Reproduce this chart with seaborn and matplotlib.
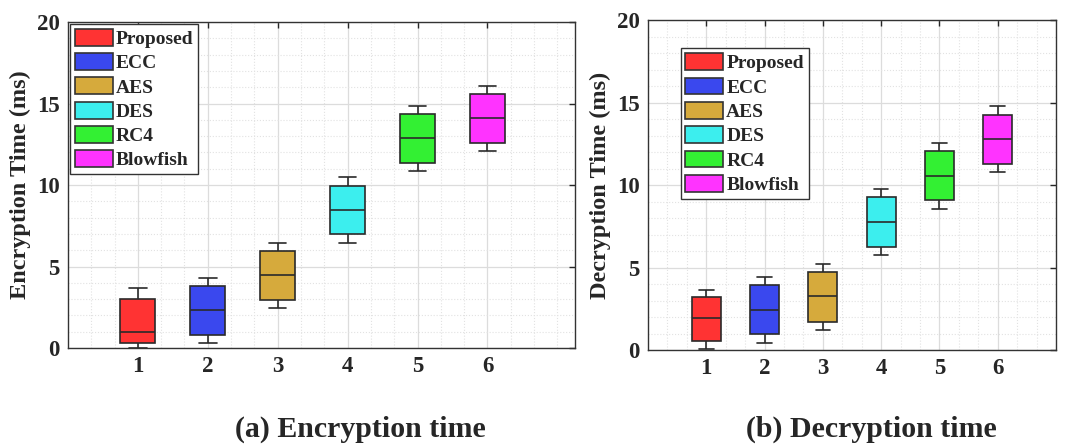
import numpy as np
import pandas as pd
import matplotlib
matplotlib.use("Agg")
import matplotlib.pyplot as plt
from matplotlib.ticker import MultipleLocator
from matplotlib.patches import Patch
import seaborn as sns

# five-number summaries: low whisker, Q1, median, Q3, high whisker
methods = ["Proposed", "ECC", "AES", "DES", "RC4", "Blowfish"]
positions = [1, 2, 3, 4, 5, 6]
colors = ["#ff3333", "#3a48ee", "#d6aa3c", "#3ceeee", "#33f033", "#ff33ff"]

enc_low = [0.00, 0.31, 2.45, 6.46, 10.86, 12.09]
enc_q1 = [0.31, 0.82, 2.97, 6.97, 11.37, 12.60]
enc_med = [0.98, 2.31, 4.46, 8.49, 12.88, 14.11]
enc_q3 = [2.99, 3.80, 5.95, 9.96, 14.34, 15.58]
enc_high = [3.66, 4.31, 6.44, 10.47, 14.85, 16.09]

dec_low = [0.06, 0.45, 1.23, 5.75, 8.56, 10.79]
dec_q1 = [0.55, 0.95, 1.72, 6.26, 9.07, 11.30]
dec_med = [1.96, 2.43, 3.26, 7.77, 10.57, 12.81]
dec_q3 = [3.24, 3.93, 4.72, 9.25, 12.04, 14.27]
dec_high = [3.66, 4.45, 5.22, 9.76, 12.55, 14.80]


def to_long(low, q1, med, q3, high):
    rows = []
    for i, pos in enumerate(positions):
        for v in (low[i], q1[i], med[i], q3[i], high[i]):
            rows.append({"pos": pos, "method": methods[i], "time": v})
    return pd.DataFrame(rows)


enc_df = to_long(enc_low, enc_q1, enc_med, enc_q3, enc_high)
dec_df = to_long(dec_low, dec_q1, dec_med, dec_q3, dec_high)

sns.set_style("white")
plt.rcParams["font.family"] = ["Liberation Serif", "DejaVu Serif"]
plt.rcParams["font.weight"] = "bold"

fig = plt.figure(figsize=(10.77, 4.44), dpi=100)
ax1 = fig.add_axes([0.0631, 0.2162, 0.4707, 0.7342])
ax2 = fig.add_axes([0.6017, 0.2117, 0.3788, 0.7432])

palette = dict(zip(methods, colors))


def draw(ax, df, ylabel, xmax):
    ax.set_axisbelow(True)
    sns.boxplot(data=df, x="pos", y="time", hue="method", palette=palette,
                native_scale=True, dodge=False, width=0.5, whis=np.inf,
                linewidth=1.2, linecolor="#2a2a2a", saturation=1,
                legend=False, ax=ax)
    ax.set_xlim(0, xmax)
    ax.set_ylim(0, 20)
    ax.set_xticks(positions)
    ax.set_xticklabels([str(p) for p in positions])
    ax.set_yticks([0, 5, 10, 15, 20])
    ax.xaxis.set_minor_locator(MultipleLocator(1 / 3))
    ax.yaxis.set_minor_locator(MultipleLocator(1))
    ax.grid(which="major", color="#dcdcdc", linewidth=0.9, linestyle="-")
    ax.grid(which="minor", color="#e2e2e2", linewidth=0.8, linestyle=":")
    ax.tick_params(which="major", direction="in", length=4, width=1,
                   top=True, right=True, labelsize=16.5, pad=6)
    ax.tick_params(which="minor", length=0)
    for lbl in ax.get_xticklabels() + ax.get_yticklabels():
        lbl.set_fontweight("bold")
    for s in ax.spines.values():
        s.set_color("#333333")
        s.set_linewidth(1.0)
    ax.set_xlabel("")
    ax.set_ylabel(ylabel, fontsize=17.5, fontweight="bold", labelpad=4)
    handles = [Patch(facecolor=c, edgecolor="#333333", linewidth=1.2) for c in colors]
    leg = ax.legend(handles, methods, loc="upper left", fancybox=False,
                    framealpha=1, edgecolor="#333333", handlelength=1.95,
                    handleheight=0.95, handletextpad=0.15, labelspacing=0.27,
                    borderpad=0.25, borderaxespad=0.1,
                    prop={"family": "Liberation Serif", "weight": "bold", "size": 14})
    leg.get_frame().set_linewidth(1.0)
    return leg


draw(ax1, enc_df, "Encryption Time (ms)", 7.25)
leg2 = draw(ax2, dec_df, "Decryption Time (ms)", 7.0)
leg2.set_bbox_to_anchor((0.075, 0.0, 1, 0.92), transform=ax2.transAxes)

fig.text(360 / 1077, 1 - 429 / 444, "(a) Encryption time", ha="center", va="center",
         fontsize=21.5, fontweight="bold")
fig.text(871 / 1077, 1 - 429 / 444, "(b) Decryption time", ha="center", va="center",
         fontsize=21.5, fontweight="bold")

fig.savefig("out.png", dpi=100)
